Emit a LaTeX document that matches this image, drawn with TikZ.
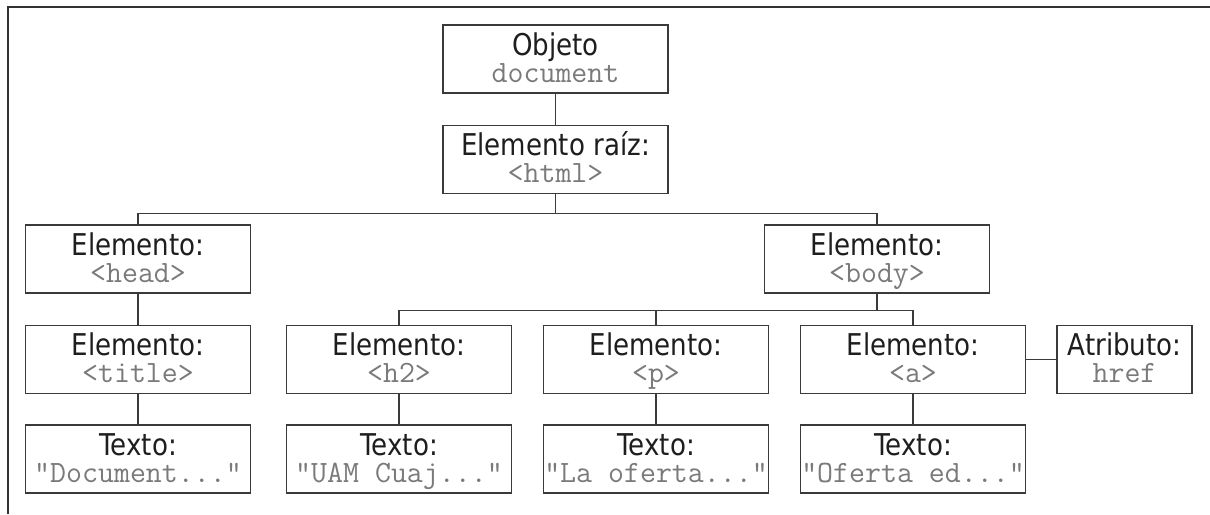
\documentclass[tikz,border=0pt]{standalone}
\usepackage{fontspec}
\newfontfamily\vsans[FakeStretch=0.87]{DejaVu Sans}
\definecolor{linegray}{HTML}{3A3A3A}
\definecolor{txtdark}{HTML}{1E1E1E}
\definecolor{txtgray}{HTML}{7A7A7A}
\newcommand{\bx}[2]{{\vsans\fontsize{30}{27}\selectfont\color{txtdark}#1}\\{\ttfamily\fontsize{31}{27}\selectfont\color{txtgray}#2}}
\tikzset{
  domnode/.style={draw=linegray, line width=1.4pt, minimum width=225pt, minimum height=68pt, inner sep=0pt, align=center, fill=white, font={\fontsize{30}{27}\selectfont}, text height=51pt, text depth=5pt},
  attrnode/.style={domnode, minimum width=135pt},
  conn/.style={draw=linegray, line width=1.4pt},
  frameline/.style={draw=black!80, line width=2pt}
}
\begin{document}
\begin{tikzpicture}[x=1pt,y=-1pt]
\useasboundingbox (0,0) rectangle (1210,514);
\fill[white] (0,0) rectangle (1210,514);
\coordinate (fl) at (8,514);
\coordinate (fc) at (8,7);
\coordinate (fr) at (1210,7);
\draw[frameline] (fl) -- (fc) -- (fr);

\node[domnode] (doc) at (555.5,59) {\bx{Objeto}{document}};
\node[domnode] (html) at (555.5,159.5) {\bx{Elemento raíz:}{<html>}};
\node[domnode] (head) at (138,259) {\bx{Elemento:}{<head>}};
\node[domnode] (body) at (877,259) {\bx{Elemento:}{<body>}};
\node[domnode] (title) at (138,359.5) {\bx{Elemento:}{<title>}};
\node[domnode] (h2) at (399,359.5) {\bx{Elemento:}{<h2>}};
\node[domnode] (p) at (656,359.5) {\bx{Elemento:}{<p>}};
\node[domnode] (a) at (913,359.5) {\bx{Elemento:}{<a>}};
\node[attrnode] (attr) at (1124.5,359.5) {\bx{Atributo:}{href}};
\node[domnode] (t1) at (138,459) {\bx{Texto:}{"Document..."}};
\node[domnode] (t2) at (399,459) {\bx{Texto:}{"UAM Cuaj..."}};
\node[domnode] (t3) at (656,459) {\bx{Texto:}{"La oferta..."}};
\node[domnode] (t4) at (913,459) {\bx{Texto:}{"Oferta ed..."}};

\draw[conn] (doc) -- (html);
\draw[conn] (html.south) -- ++(0,19) coordinate (bus1);
\draw[conn] (bus1) -| (head.north);
\draw[conn] (bus1) -| (body.north);
\draw[conn] (head) -- (title);
\draw[conn] (title) -- (t1);
\draw[conn] (body.south) -- ++(0,17) coordinate (bus2);
\draw[conn] (bus2) -| (h2.north);
\draw[conn] (bus2) -| (p.north);
\draw[conn] (bus2) -| (a.north);
\draw[conn] (a) -- (attr);
\draw[conn] (h2) -- (t2);
\draw[conn] (p) -- (t3);
\draw[conn] (a) -- (t4);
\end{tikzpicture}
\end{document}
